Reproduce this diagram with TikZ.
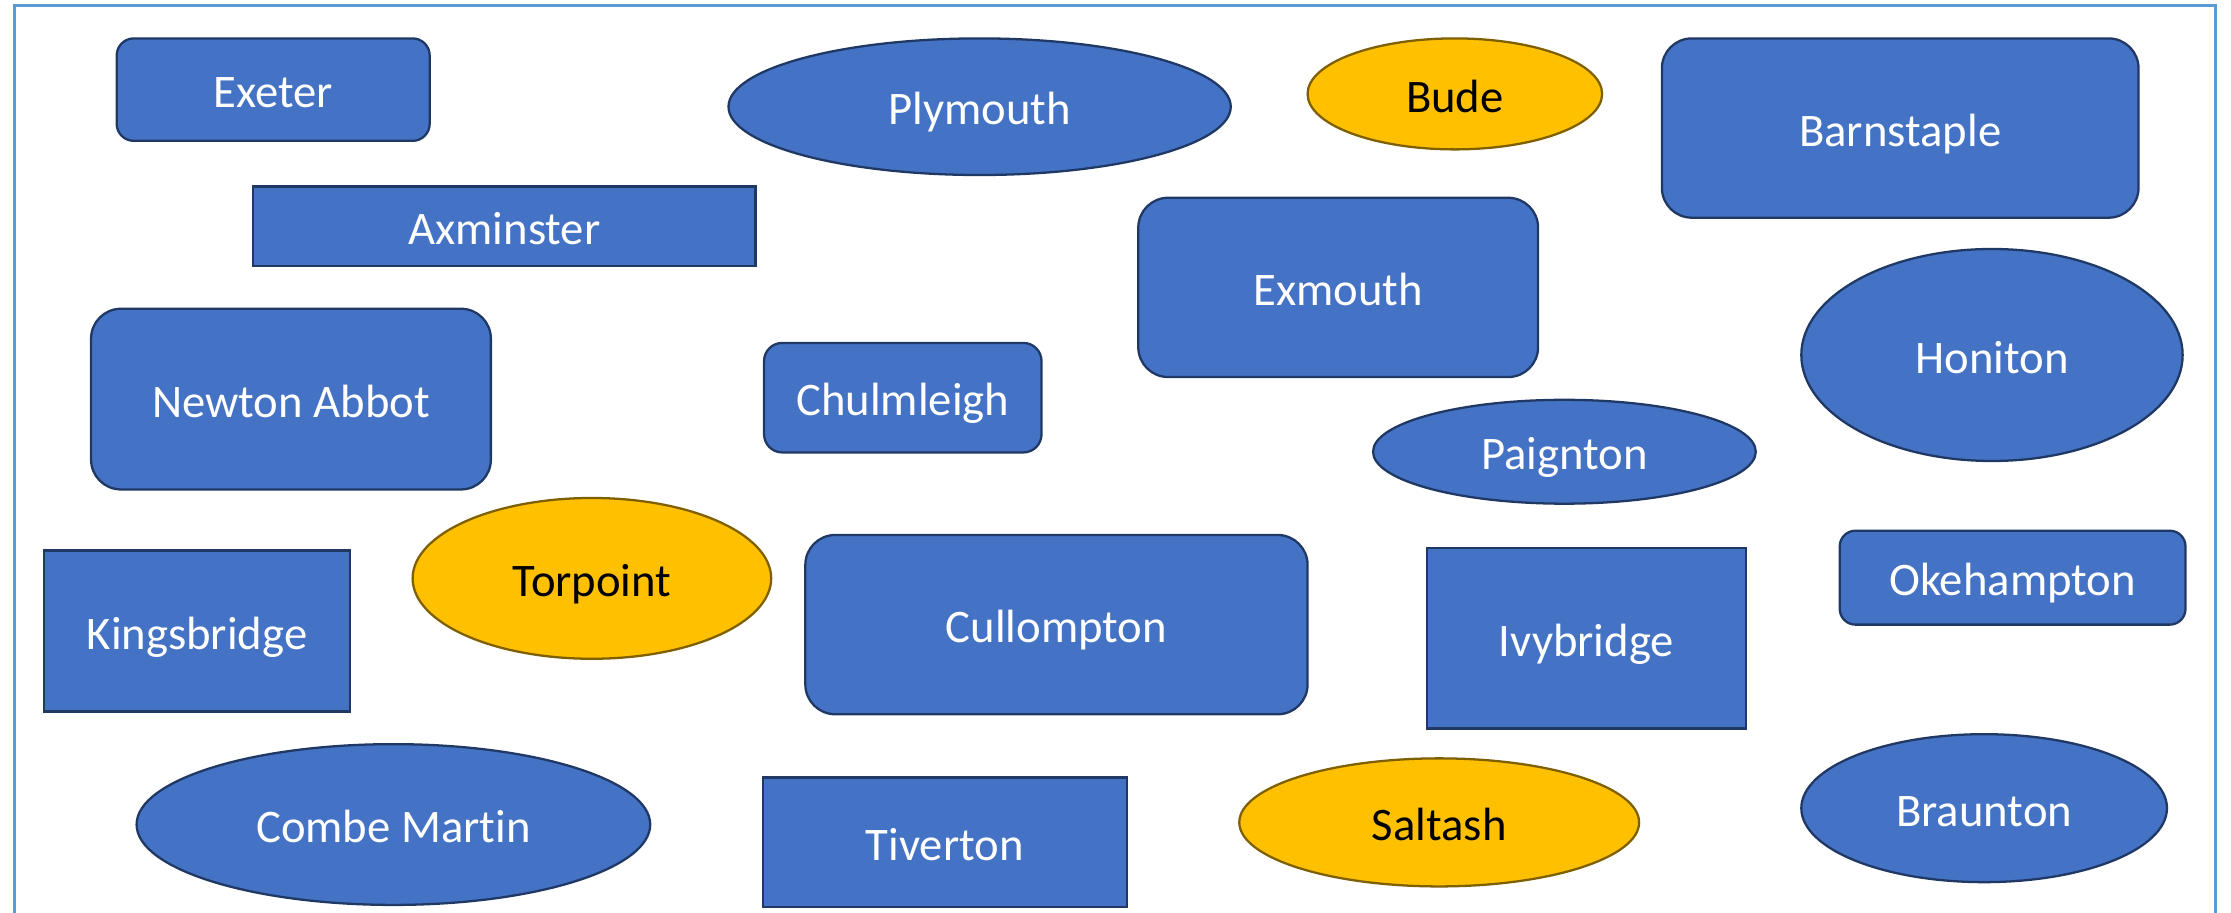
\documentclass[tikz,border=0pt]{standalone}
\usepackage{fontspec}
\setmainfont{Carlito}[Ligatures=NoCommon]
\usetikzlibrary{shapes.geometric}
\definecolor{boxblue}{HTML}{4472C4}
\definecolor{boxedge}{HTML}{1F3864}
\definecolor{gold}{HTML}{FFC000}
\definecolor{goldedge}{HTML}{7F6000}
\definecolor{frameblue}{HTML}{5B9BD5}
\begin{document}
\begin{tikzpicture}[x=0.5pt,y=-0.5pt,
  town/.style={inner sep=0pt, outer sep=0pt, line width=0.8pt,
    font=\fontsize{16.4}{19.7}\selectfont, text height=12.8pt, text depth=0pt},
  wh/.style 2 args={minimum width=#1*0.5pt, minimum height=#2*0.5pt},
  bluebox/.style={town, rectangle, draw=boxedge, fill=boxblue, text=white},
  blueoval/.style={town, ellipse, draw=boxedge, fill=boxblue, text=white},
  goldoval/.style={town, ellipse, draw=goldedge, fill=gold, text=black}]
\useasboundingbox (0,0) rectangle (1568,641);
\clip (0,0) rectangle (1568,641);
\draw[frameblue, line width=1pt] (10,700) -- (10,4) -- (1557,4) -- (1557,700);

\node[bluebox, rounded corners=6pt, wh={220}{72}] (exeter) at (192,63) {Exeter};
\node[blueoval, wh={353}{96}] (plymouth) at (688.5,75) {Plymouth};
\node[goldoval, wh={207}{78}] (bude) at (1022.5,66) {Bude};
\node[bluebox, rounded corners=10.5pt, wh={335}{126}] (barnstaple) at (1335.5,90) {Barnstaple};
\node[bluebox, wh={353}{56}] (axminster) at (354.5,159) {Axminster};
\node[bluebox, rounded corners=10.5pt, wh={281}{126}] (exmouth) at (940.5,202) {Exmouth};
\node[blueoval, wh={268}{149}] (honiton) at (1400,249.5) {Honiton};
\node[bluebox, rounded corners=10.5pt, wh={281}{127}] (newtonabbot) at (204.5,280.5) {Newton Abbot};
\node[bluebox, rounded corners=6.4pt, wh={195}{77}] (chulmleigh) at (634.5,279.5) {Chulmleigh};
\node[blueoval, wh={269}{73}] (paignton) at (1099.5,317.5) {Paignton};
\node[goldoval, wh={252}{113}] (torpoint) at (416,406.5) {Torpoint};
\node[bluebox, wh={215}{113}] (kingsbridge) at (138.5,443.5) {Kingsbridge};
\node[bluebox, rounded corners=10.5pt, wh={353}{126}] (cullompton) at (742.5,439) {Cullompton};
\node[bluebox, wh={224}{127}] (ivybridge) at (1115,448.5) {Ivybridge};
\node[bluebox, rounded corners=5.5pt, wh={243}{66}] (okehampton) at (1414.5,406) {Okehampton};
\node[blueoval, wh={361}{113}] (combemartin) at (276.5,579.5) {Combe Martin};
\node[bluebox, wh={256}{91}] (tiverton) at (664,592) {Tiverton};
\node[goldoval, wh={281}{90}] (saltash) at (1011.5,578) {Saltash};
\node[blueoval, wh={257}{104}] (braunton) at (1394.5,568) {Braunton};
\end{tikzpicture}
\end{document}
